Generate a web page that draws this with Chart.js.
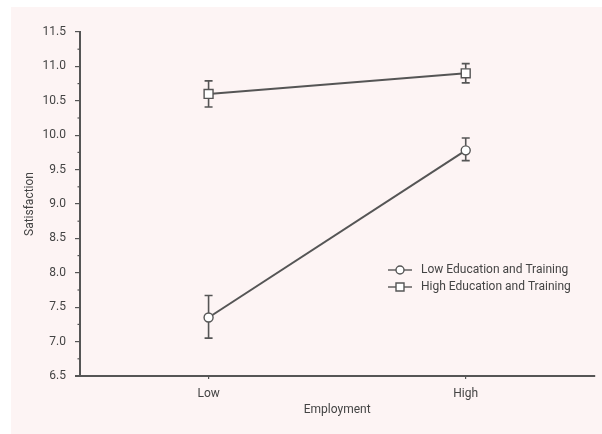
<!DOCTYPE html>
<html>
<head>
<meta charset="utf-8">
<script src="https://cdn.jsdelivr.net/npm/chart.js@4.4.1/dist/chart.umd.min.js"></script>
<style>
html,body{margin:0;padding:0;background:#fff;}
#wrap{width:602px;height:434px;position:relative;}
</style>
</head>
<body>
<div id="wrap"><canvas id="c" width="602" height="434"></canvas></div>
<script>
const categories = ['Low', 'High'];
const seriesNames = ['Low Education and Training', 'High Education and Training'];
const lowEduMean = [7.35, 9.78];
const lowEduUpper = [7.67, 9.96];
const lowEduLower = [7.05, 9.63];
const highEduMean = [10.6, 10.9];
const highEduUpper = [10.79, 11.04];
const highEduLower = [10.41, 10.76];
const yTicks = [6.5, 7.0, 7.5, 8.0, 8.5, 9.0, 9.5, 10.0, 10.5, 11.0, 11.5];

const INK = '#555555';
const TEXT = '#444444';
const FONT = 'Roboto, "Liberation Sans", Arial, sans-serif';

const bgPlugin = {
  id: 'bg',
  beforeDraw(chart) {
    const ctx = chart.ctx;
    ctx.save();
    ctx.fillStyle = '#ffffff';
    ctx.fillRect(0, 0, chart.width, chart.height);
    ctx.fillStyle = '#fdf4f4';
    ctx.fillRect(11, 7, chart.width - 11, chart.height - 7);
    ctx.restore();
  }
};

const errPlugin = {
  id: 'errbars',
  beforeDatasetsDraw(chart) {
    const ctx = chart.ctx;
    const x = chart.scales.x, y = chart.scales.y;
    const sets = [[lowEduUpper, lowEduLower], [highEduUpper, highEduLower]];
    ctx.save();
    ctx.strokeStyle = INK;
    ctx.lineWidth = 1.6;
    sets.forEach(([up, lo]) => {
      categories.forEach((c, i) => {
        const px = x.getPixelForValue(i);
        const t = y.getPixelForValue(up[i]);
        const b = y.getPixelForValue(lo[i]);
        ctx.beginPath();
        ctx.moveTo(px, t); ctx.lineTo(px, b);
        ctx.moveTo(px - 4, t); ctx.lineTo(px + 4, t);
        ctx.moveTo(px - 4, b); ctx.lineTo(px + 4, b);
        ctx.stroke();
      });
    });
    ctx.restore();
  },
  afterDraw(chart) {
    const ctx = chart.ctx;
    const y = chart.scales.y;
    const left = chart.chartArea.left;
    ctx.save();
    ctx.strokeStyle = INK;
    ctx.lineWidth = 1.2;
    for (let i = 0; i < yTicks.length - 1; i++) {
      const v = (yTicks[i] + yTicks[i + 1]) / 2;
      const py = y.getPixelForValue(v);
      ctx.beginPath();
      ctx.moveTo(left - 2.5, py); ctx.lineTo(left, py);
      ctx.stroke();
    }
    const by = chart.chartArea.bottom;
    ctx.lineWidth = 2;
    ctx.beginPath();
    ctx.moveTo(left - 5, by); ctx.lineTo(left, by);
    ctx.stroke();
    const rows = [{name: seriesNames[0], style: 'circle', y: 270}, {name: seriesNames[1], style: 'rect', y: 287}];
    ctx.font = '12px ' + FONT;
    ctx.textBaseline = 'middle';
    rows.forEach(r => {
      ctx.lineWidth = 1.4;
      ctx.strokeStyle = INK;
      ctx.beginPath();
      ctx.moveTo(388, r.y); ctx.lineTo(412, r.y);
      ctx.stroke();
      ctx.fillStyle = '#ffffff';
      ctx.beginPath();
      if (r.style === 'circle') {
        ctx.arc(400, r.y, 4, 0, Math.PI * 2);
      } else {
        ctx.rect(396, r.y - 4, 8, 8);
      }
      ctx.fill();
      ctx.stroke();
      ctx.fillStyle = TEXT;
      ctx.fillText(r.name, 421, r.y);
    });
    ctx.restore();
  }
};

new Chart(document.getElementById('c'), {
  type: 'line',
  data: {
    labels: categories,
    datasets: [
      {
        label: seriesNames[0],
        data: lowEduMean,
        borderColor: INK,
        borderWidth: 2,
        pointStyle: 'circle',
        pointRadius: 4.5,
        pointBorderWidth: 1.4,
        pointBackgroundColor: '#ffffff',
        pointBorderColor: INK,
        tension: 0
      },
      {
        label: seriesNames[1],
        data: highEduMean,
        borderColor: INK,
        borderWidth: 2,
        pointStyle: 'rect',
        pointRadius: 6.3,
        pointBorderWidth: 1.4,
        pointBackgroundColor: '#ffffff',
        pointBorderColor: INK,
        tension: 0
      }
    ]
  },
  options: {
    responsive: false,
    animation: false,
    layout: { padding: { left: 23, right: 5, top: 32, bottom: 17 } },
    plugins: { legend: { display: false }, tooltip: { enabled: false } },
    scales: {
      x: {
        type: 'category',
        offset: true,
        grid: { display: true, drawOnChartArea: false, drawTicks: true, tickLength: 3, color: INK, lineWidth: 1.2, offset: false },
        border: { display: true, color: INK, width: 2 },
        ticks: { color: TEXT, font: { family: FONT, size: 12 }, padding: 8 },
        title: { display: true, text: 'Employment', color: TEXT, font: { family: FONT, size: 12 }, padding: { top: 2, bottom: 0 } },
        afterFit(s) { s.height = 41; }
      },
      y: {
        min: 6.5,
        max: 11.5,
        afterBuildTicks(s) { s.ticks = yTicks.map(v => ({ value: v })); },
        grid: { display: true, drawOnChartArea: false, drawTicks: true, tickLength: 5, color: INK, lineWidth: 1.2 },
        border: { display: true, color: INK, width: 2 },
        ticks: { color: TEXT, font: { family: FONT, size: 12 }, padding: 9, callback: v => Number(v).toFixed(1) },
        title: { display: true, text: 'Satisfaction', color: TEXT, font: { family: FONT, size: 12 }, padding: 0 },
        afterFit(s) { s.width = 57; }
      }
    }
  },
  plugins: [bgPlugin, errPlugin]
});
</script>
</body>
</html>
